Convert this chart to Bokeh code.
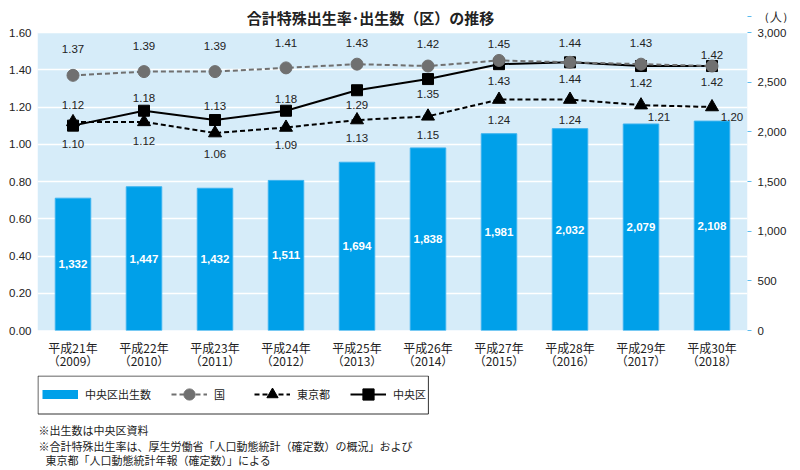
from bokeh.plotting import figure
from bokeh.layouts import column
from bokeh.models import (Range1d, LinearAxis, FixedTicker, NumeralTickFormatter,
                          ColumnDataSource, Legend, LegendItem, Label, BoxAnnotation)
from bokeh.embed import file_html
from bokeh.resources import INLINE
from bokeh.core.properties import value

# ---------------- data ----------------
era_labels = ["平成21年", "平成22年", "平成23年", "平成24年", "平成25年",
              "平成26年", "平成27年", "平成28年", "平成29年", "平成30年"]
years = ["2009", "2010", "2011", "2012", "2013", "2014", "2015", "2016", "2017", "2018"]
births = [1332, 1447, 1432, 1511, 1694, 1838, 1981, 2032, 2079, 2108]
rate_national = [1.37, 1.39, 1.39, 1.41, 1.43, 1.42, 1.45, 1.44, 1.43, 1.42]
rate_tokyo = [1.12, 1.12, 1.06, 1.09, 1.13, 1.15, 1.24, 1.24, 1.21, 1.20]
rate_chuo = [1.10, 1.18, 1.13, 1.18, 1.29, 1.35, 1.43, 1.44, 1.42, 1.42]
left_ticks = [0.0, 0.2, 0.4, 0.6, 0.8, 1.0, 1.2, 1.4, 1.6]
right_ticks = [0, 500, 1000, 1500, 2000, 2500, 3000]
rate_max = 1.6
births_max = 3000
title_text = "合計特殊出生率･出生数（区）の推移"
unit_text = "（人）"
legend_labels = ["中央区出生数", "国", "東京都", "中央区"]
notes = ["※出生数は中央区資料",
         "※合計特殊出生率は、厚生労働省「人口動態統計（確定数）の概況」および",
         "東京都「人口動態統計年報（確定数）」による"]

# ---------------- label placement (style, screen px) ----------------
nat_dy = [-26, -26, -26, -25, -21, -22, -16, -19, -21, -11]
tok_dy = [-17, 19, 21, 18, 18, 19, 20, 20, 12, 10]
tok_dx = [0, 0, 0, 0, 0, 0, 0, 0, 18, 20]
chu_dy = [18, -13, -14, -12, 15, 15, 17, 17, 17, 16]

BAR = "#00a0e9"
BG = "#d6ecf9"
GREY = "#707070"
INK = "#222222"
NUM_FONT = "Liberation Sans"
JP_FONT = "Noto Sans CJK JP"

# layout (px)
W = 796
FRAME_L, FRAME_R = 37, 749          # chart area left/right on canvas
FRAME_W = FRAME_R - FRAME_L
CHART_TOP, CHART_BOTTOM = 32, 330   # chart area top/bottom on canvas
MAIN_H = 375                         # main canvas (chart + x-axis)
FOOT_H = 94                          # footer canvas (legend + notes)
FRAME_H = CHART_BOTTOM               # frame runs from canvas top to chart bottom
CHART_H = CHART_BOTTOM - CHART_TOP
stretch = FRAME_H / CHART_H

xs = list(range(len(births)))
src = ColumnDataSource(dict(
    x=xs,
    births=births,
    mid=[b / 2 for b in births],
    blabel=[f"{b:,}" for b in births],
    nat=rate_national, nat_t=[f"{v:.2f}" for v in rate_national], nat_dy=nat_dy,
    tok=rate_tokyo, tok_t=[f"{v:.2f}" for v in rate_tokyo], tok_dy=tok_dy, tok_dx=tok_dx,
    chu=rate_chuo, chu_t=[f"{v:.2f}" for v in rate_chuo], chu_dy=chu_dy,
))

p = figure(width=W, height=MAIN_H, x_range=Range1d(-0.5, len(xs) - 0.5),
           y_range=Range1d(0, rate_max * stretch), output_backend="svg", toolbar_location=None,
           min_border_left=FRAME_L, min_border_right=W - FRAME_R, min_border_top=0,
           min_border_bottom=MAIN_H - CHART_BOTTOM,
           background_fill_color="white", border_fill_color="white", outline_line_color=None)
p.extra_y_ranges = {"births": Range1d(0, births_max * stretch)}

# chart-area background
p.add_layout(BoxAnnotation(bottom=0, top=rate_max, fill_color=BG, fill_alpha=1,
                           line_color=None, level="image"))

# grid
p.xgrid.visible = False
p.ygrid.ticker = FixedTicker(ticks=left_ticks)
p.ygrid.grid_line_color = "white"
p.ygrid.grid_line_width = 1.5

# left axis
p.yaxis.ticker = FixedTicker(ticks=left_ticks)
p.yaxis.formatter = NumeralTickFormatter(format="0.00")
p.yaxis.axis_line_color = None
p.yaxis.major_tick_line_color = None
p.yaxis.minor_tick_line_color = None
p.yaxis.major_tick_out = 0
p.yaxis.major_tick_in = 0
p.yaxis.major_label_standoff = 6
p.yaxis.major_label_text_font = NUM_FONT
p.yaxis.major_label_text_font_size = "11.5px"
p.yaxis.major_label_text_color = INK

# right axis (the unit text sits as the top label of this axis)
unit_pos = round(births_max * (FRAME_H - 16) / CHART_H)
ra = LinearAxis(y_range_name="births", ticker=FixedTicker(ticks=right_ticks + [unit_pos]),
                formatter=NumeralTickFormatter(format="0,0"))
ra.major_label_overrides = {unit_pos: unit_text}
ra.axis_line_color = None
ra.major_tick_line_color = "#5bbbee"
ra.major_tick_out = 4
ra.major_tick_in = 0
ra.minor_tick_line_color = None
ra.major_label_standoff = 6
ra.major_label_text_font = NUM_FONT
ra.major_label_text_font_size = "11.5px"
ra.major_label_text_color = INK
p.add_layout(ra, "right")

# x axis
p.xaxis.ticker = FixedTicker(ticks=xs)
p.xaxis.major_label_overrides = {i: f"{e}\n（{y}）" for i, e, y in zip(xs, era_labels, years)}
p.xaxis.axis_line_color = None
p.xaxis.major_tick_line_color = None
p.xaxis.minor_tick_line_color = None
p.xaxis.major_tick_out = 0
p.xaxis.major_tick_in = 0
p.xaxis.major_label_standoff = 8
p.xaxis.major_label_text_font = JP_FONT
p.xaxis.major_label_text_font_size = "12px"
p.xaxis.major_label_text_line_height = 0.82
p.xaxis.major_label_text_color = INK

# bars
p.vbar(x="x", top="births", bottom=0, width=0.5, y_range_name="births", source=src,
       fill_color=BAR, line_color="#3ab2ef", line_width=1)
p.text(x="x", y="mid", text="blabel", y_range_name="births", source=src,
       text_color="white", text_font=value(NUM_FONT), text_font_style="bold",
       text_font_size="11.5px", text_align="center", text_baseline="middle")

# lines
p.line(x="x", y="chu", source=src, line_color="black", line_width=2)
p.scatter(x="x", y="chu", source=src, marker="square", size=11,
          fill_color="black", line_color="black")
p.line(x="x", y="tok", source=src, line_color="black", line_width=2, line_dash="5 3")
p.scatter(x="x", y="tok", source=src, marker="triangle", size=13,
          fill_color="black", line_color="black")
p.line(x="x", y="nat", source=src, line_color=GREY, line_width=2, line_dash="5 3")
p.scatter(x="x", y="nat", source=src, marker="circle", size=12,
          fill_color=GREY, line_color=GREY)

for col, dy, dx in (("nat", "nat_dy", None), ("tok", "tok_dy", "tok_dx"), ("chu", "chu_dy", None)):
    kw = dict(x_offset=dx) if dx else {}
    p.text(x="x", y=col, text=col + "_t", y_offset=dy, source=src,
           text_color=INK, text_font=value(NUM_FONT), text_font_size="11.5px",
           text_align="center", text_baseline="middle", **kw)

# title (inside the stretched frame, above the chart area)
p.add_layout(Label(x=370 - FRAME_L, y=FRAME_H - 17, x_units="screen", y_units="screen",
                   text=title_text, text_align="center", text_baseline="middle",
                   text_font=JP_FONT, text_font_style="bold",
                   text_font_size="15px", text_color=INK))

# ---------------- footer: legend and notes ----------------
# (its frame is aligned with the main chart's frame by the column layout;
#  its ranges are in pixels of that frame)
f = figure(width=W, height=FOOT_H, x_range=Range1d(0, FRAME_W), y_range=Range1d(0, FOOT_H),
           x_axis_type=None, y_axis_type=None, output_backend="svg", toolbar_location=None,
           min_border_left=FRAME_L, min_border_right=W - FRAME_R,
           min_border_top=0, min_border_bottom=0,
           background_fill_color="white", border_fill_color="white",
           outline_line_color=None)
NAN = [float("nan")]
bar_proxy = f.line(x=NAN, y=NAN, line_color=BAR, line_width=9)
nat_pl = f.line(x=NAN, y=NAN, line_color=GREY, line_width=2, line_dash="5 3")
nat_ps = f.scatter(x=NAN, y=NAN, marker="circle", fill_color=GREY, line_color=GREY)
tok_pl = f.line(x=NAN, y=NAN, line_color="black", line_width=2, line_dash="5 3")
tok_ps = f.scatter(x=NAN, y=NAN, marker="triangle", fill_color="black", line_color="black")
chu_pl = f.line(x=NAN, y=NAN, line_color="black", line_width=2)
chu_ps = f.scatter(x=NAN, y=NAN, marker="square", fill_color="black", line_color="black")

LEG_H = 38
LEG_W = 392
legend = Legend(items=[
    LegendItem(label=legend_labels[0], renderers=[bar_proxy]),
    LegendItem(label=legend_labels[1], renderers=[nat_pl, nat_ps]),
    LegendItem(label=legend_labels[2], renderers=[tok_pl, tok_ps]),
    LegendItem(label=legend_labels[3], renderers=[chu_pl, chu_ps]),
], location=(5, FOOT_H - LEG_H + 5), orientation="horizontal",
    glyph_width=36, glyph_height=28, padding=5, spacing=20, label_standoff=7,
    label_text_font=JP_FONT, label_text_font_size="11px", label_text_color=INK,
    border_line_color=None, background_fill_color="white",
    background_fill_alpha=0, margin=0)
f.add_layout(legend)

# legend frame
f.add_layout(BoxAnnotation(left=0.5, right=LEG_W, top=FOOT_H - 0.5, bottom=FOOT_H - LEG_H - 0.5,
                           fill_alpha=0, line_color="#333333", line_alpha=1, line_width=1))

for txt, nx, ny in zip(notes, [1, 1, 8], [40, 24, 10]):
    f.add_layout(Label(x=nx, y=ny, x_units="screen", y_units="screen", text=txt,
                       text_align="left", text_baseline="middle", text_font=JP_FONT,
                       text_font_size="11px", text_color=INK))

page = column(p, f, spacing=0)
open("out.html", "w").write(file_html(page, INLINE))
